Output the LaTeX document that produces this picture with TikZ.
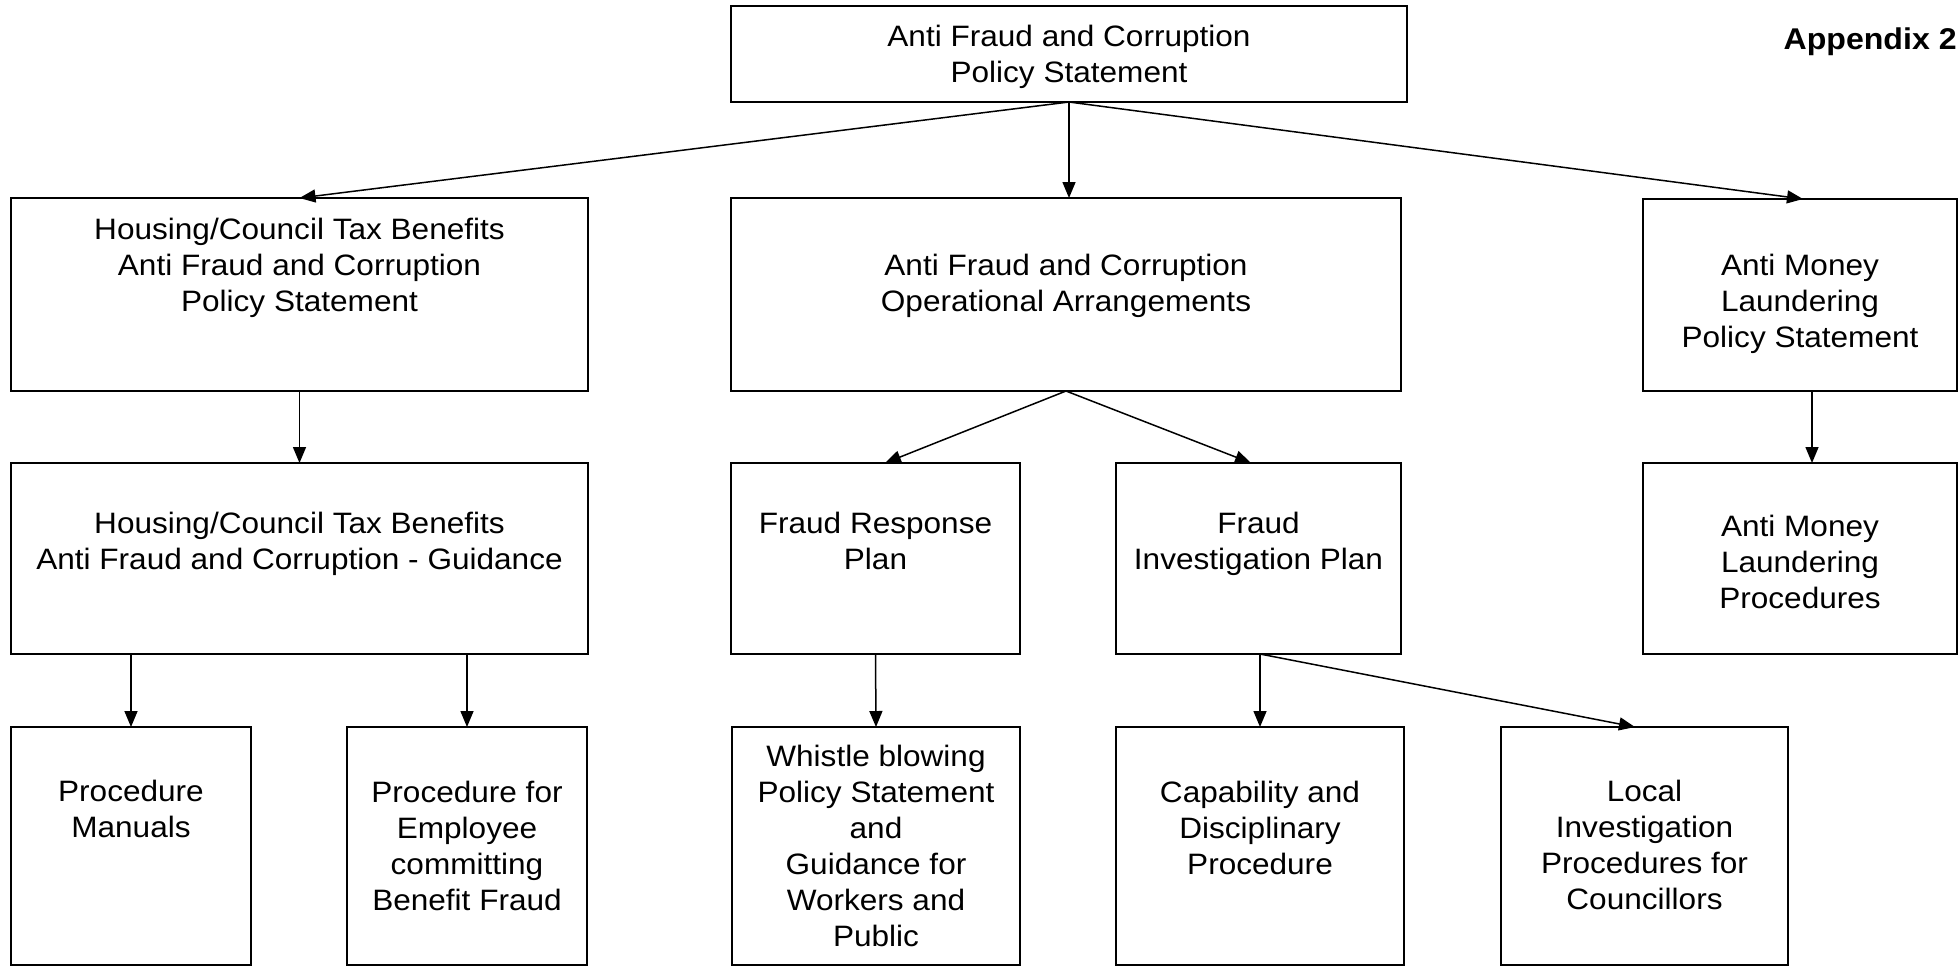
\documentclass[tikz,border=0pt]{standalone}
\usepackage{fontspec}
\setmainfont{Liberation Sans}[FakeStretch=1.07]
\usetikzlibrary{arrows.meta}
\begin{document}
\begin{tikzpicture}[x=0.5pt,y=-0.5pt,
  bx/.style={draw, line width=0.7pt, inner sep=0pt, outer sep=0pt},
  txt/.style={anchor=north, inner sep=0pt, align=center, font=\fontsize{14.75}{18}\selectfont},
  arr/.style={line width=0.75pt, -{Triangle[length=8pt,width=6.5pt]}}]
\useasboundingbox (0,0) rectangle (1959,966);
% boxes
\node[bx, minimum width=338pt, minimum height=48pt] (top) at (1069,54) {};
\node[bx, minimum width=288.5pt, minimum height=96.5pt] (hps) at (299.5,294.5) {};
\node[bx, minimum width=335pt, minimum height=96.5pt] (mid) at (1066,294.5) {};
\node[bx, minimum width=157pt, minimum height=96pt] (aps) at (1800,295) {};
\node[bx, minimum width=288.5pt, minimum height=95.5pt] (hg) at (299.5,558.5) {};
\node[bx, minimum width=144.5pt, minimum height=95.5pt] (fr) at (875.5,558.5) {};
\node[bx, minimum width=142.5pt, minimum height=95.5pt] (fi) at (1258.5,558.5) {};
\node[bx, minimum width=157pt, minimum height=95.5pt] (apr) at (1800,558.5) {};
\node[bx, minimum width=120pt, minimum height=119pt] (pm) at (131,846) {};
\node[bx, minimum width=120pt, minimum height=119pt] (pe) at (467,846) {};
\node[bx, minimum width=144pt, minimum height=119pt] (wb) at (876,846) {};
\node[bx, minimum width=144pt, minimum height=119pt] (cp) at (1260,846) {};
\node[bx, minimum width=143.5pt, minimum height=119pt] (lc) at (1644.5,846) {};
% texts
\node[txt] (ttop) at (1069,25) {Anti Fraud and Corruption\\Policy Statement};
\node[txt] (thps) at (299.5,218) {Housing/Council Tax Benefits\\Anti Fraud and Corruption\\Policy Statement};
\node[txt] (tmid) at (1066,254) {Anti Fraud and Corruption\\Operational Arrangements};
\node[txt] (taps) at (1800,254) {Anti Money\\Laundering\\Policy Statement};
\node[txt] (thg) at (299.5,512) {Housing/Council Tax Benefits\\Anti Fraud and Corruption - Guidance};
\node[txt] (tfr) at (875.5,512) {Fraud Response\\Plan};
\node[txt] (tfi) at (1258.5,512) {Fraud\\Investigation Plan};
\node[txt] (tapr) at (1800,515) {Anti Money\\Laundering\\Procedures};
\node[txt] (tpm) at (131,780) {Procedure\\Manuals};
\node[txt] (tpe) at (467,781) {Procedure for\\Employee\\committing\\Benefit Fraud};
\node[txt] (twb) at (876,745) {Whistle blowing\\Policy Statement\\and\\Guidance for\\Workers and\\Public};
\node[txt] (tcp) at (1260,781) {Capability and\\Disciplinary\\Procedure};
\node[txt] (tlc) at (1644.5,780) {Local\\Investigation\\Procedures for\\Councillors};
\node[anchor=base east, inner sep=0pt, font=\bfseries\fontsize{15}{18}\selectfont] (app) at (1957,49) {Appendix 2};
% connectors
\draw[arr] (top.south) -- (hps.north);
\draw[arr] (top.south) -- (top.south |- mid.north);
\draw[arr] (top.south) -- ([xshift=1.5pt]aps.north);
\draw[arr] (hps.south) -- (hg.north);
\draw[arr] (mid.south) -- ([xshift=4.75pt]fr.north);
\draw[arr] (mid.south) -- ([xshift=-3.75pt]fi.north);
\draw[arr] ([xshift=6pt]aps.south) -- ([xshift=6pt]apr.north);
\draw[arr] (pm.north |- hg.south) -- (pm.north);
\draw[arr] (pe.north |- hg.south) -- (pe.north);
\draw[arr] (fr.south) -- (wb.north);
\draw[arr] (cp.north |- fi.south) -- (cp.north);
\draw[arr] (cp.north |- fi.south) -- ([xshift=-4.75pt]lc.north);
\end{tikzpicture}
\end{document}
